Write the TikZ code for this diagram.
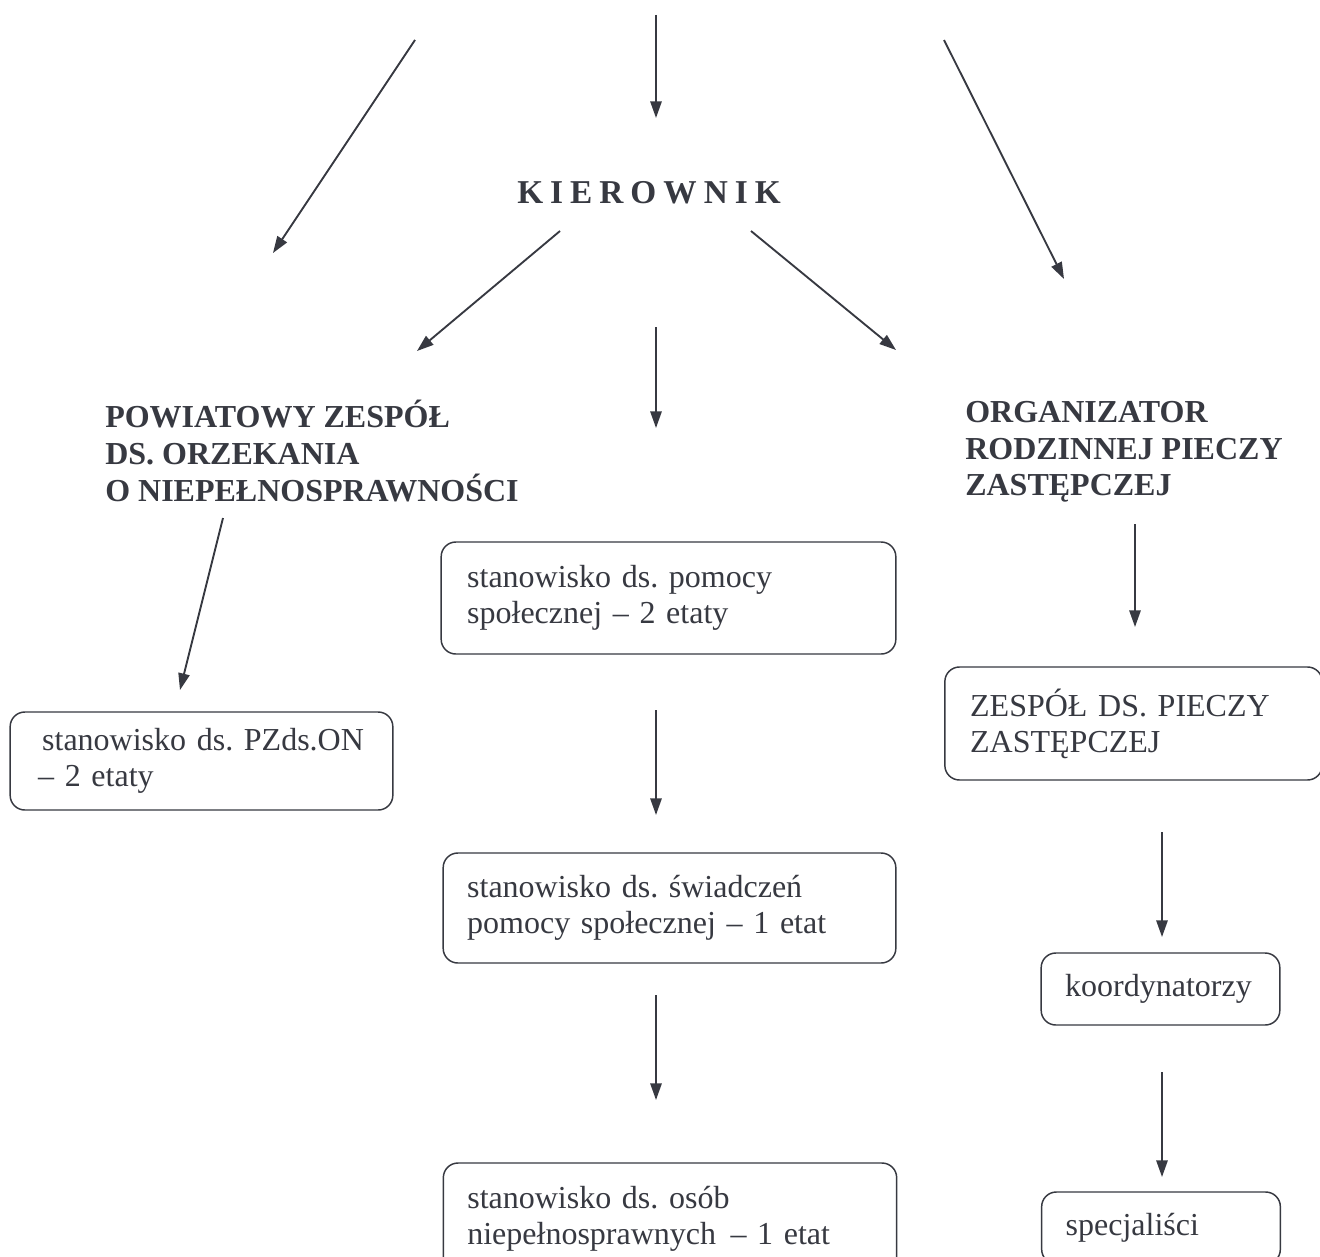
\documentclass[tikz,border=0pt]{standalone}
\usepackage{fontspec}
\setmainfont{Liberation Serif}
\usetikzlibrary{arrows.meta}
\definecolor{ink}{RGB}{55,57,65}
\frenchspacing
\begin{document}
\begin{tikzpicture}[x=0.75pt,y=-0.75pt,
  font=\fontsize{24}{27}\selectfont\frenchspacing, text=ink,
  arr/.style={draw=ink, line width=1.4pt, -{Triangle[length=12.5pt,width=8.5pt]}},
  box/.style={draw=ink, line width=1.1pt, rounded corners=11pt, align=left, anchor=center, inner ysep=0pt},
  head/.style={font=\fontsize{24}{27.5}\selectfont\bfseries, align=left, inner sep=0pt, anchor=west}]
\clip (0,0) rectangle (1320,1256);
\fill[white] (0,0) rectangle (1320,1256);

% headings
\node[font=\fontsize{25}{27}\selectfont\bfseries\addfontfeature{LetterSpace=21}, inner sep=0pt] (kier) at (649,193) {KIEROWNIK};
\node[head] (pow) at (105,451) {POWIATOWY ZESPÓŁ\\DS. ORZEKANIA\\O NIEPEŁNOSPRAWNOŚCI};
\node[head] (org) at (965,452) {ORGANIZATOR\\RODZINNEJ PIECZY\\ZASTĘPCZEJ};

% boxes
\node[box, text width=259pt, inner xsep=14pt, minimum height=73.5pt] (pzd) at (201.5,761)
  {\hspace*{10pt}stanowisko ds. PZds.ON\\\hspace*{7pt}– 2 etaty};
\node[box, text width=302pt, inner xsep=19.5pt, minimum height=84pt] (pomoc) at (668.5,598)
  {stanowisko ds. pomocy\\społecznej – 2 etaty};
\node[box, text width=303.5pt, inner xsep=18pt, minimum height=82.5pt] (swiad) at (669.5,908)
  {stanowisko ds. świadczeń\\pomocy społecznej – 1 etat};
\node[box, text width=304pt, inner xsep=18pt, minimum height=84pt] (osob) at (670,1219)
  {stanowisko ds. osób\\niepełnosprawnych\hspace{0.45em}– 1 etat};
\node[box, text width=245pt, inner xsep=19pt, minimum height=84.75pt] (zesp) at (1133.5,723.5)
  {ZESPÓŁ DS. PIECZY\\ZASTĘPCZEJ};
\node[box, text width=143pt, inner xsep=18pt, minimum height=54pt] (koord) at (1160.5,989)
  {koordynatorzy};
\node[box, text width=143pt, inner xsep=18pt, minimum height=54pt] (spec) at (1161,1228)
  {specjaliści};

% arrow end points
\coordinate (tlA) at (415,40);   \coordinate (tlB) at (273,253);
\coordinate (tcA) at (656,15);   \coordinate (tcB) at (656,118);
\coordinate (trA) at (944,40);   \coordinate (trB) at (1064,279);
\coordinate (klA) at (560,231);  \coordinate (klB) at (417,351);
\coordinate (krA) at (751,231);  \coordinate (krB) at (896,350);
\coordinate (kdA) at (656,327);  \coordinate (kdB) at (656,428);
\coordinate (pdA) at (223,518);  \coordinate (pdB) at (180,690);
\coordinate (p1A) at (656,710);  \coordinate (p1B) at (656,815);
\coordinate (p2A) at (656,995);  \coordinate (p2B) at (656,1100);
\coordinate (odA) at (1135,524); \coordinate (odB) at (1135,627);
\coordinate (z1A) at (1162,832); \coordinate (z1B) at (1162,937);
\coordinate (z2A) at (1162,1072);\coordinate (z2B) at (1162,1177);

\draw[arr] (tlA) -- (tlB);
\draw[arr] (tcA) -- (tcB);
\draw[arr] (trA) -- (trB);
\draw[arr] (klA) -- (klB);
\draw[arr] (krA) -- (krB);
\draw[arr] (kdA) -- (kdB);
\draw[arr] (pdA) -- (pdB);
\draw[arr] (p1A) -- (p1B);
\draw[arr] (p2A) -- (p2B);
\draw[arr] (odA) -- (odB);
\draw[arr] (z1A) -- (z1B);
\draw[arr] (z2A) -- (z2B);
\end{tikzpicture}
\end{document}
